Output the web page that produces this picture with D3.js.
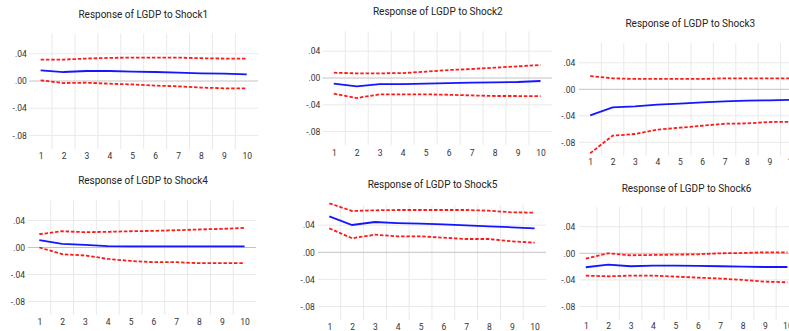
<!DOCTYPE html>
<html><head><meta charset="utf-8">
<script src="https://cdn.jsdelivr.net/npm/d3@7"></script>
<style>html,body{margin:0;padding:0;background:#fff;} svg{display:block;}</style>
</head><body><svg id="chart" width="789" height="331"></svg>
<script>
const periods = [1, 2, 3, 4, 5, 6, 7, 8, 9, 10];
const xTickLabels = ["1", "2", "3", "4", "5", "6", "7", "8", "9", "10"];
const yTickValues = [0.04, 0, -0.04, -0.08];
const yTickLabels = [".04", ".00", "-.04", "-.08"];
const panelTitles = ["Response of LGDP to Shock1", "Response of LGDP to Shock2", "Response of LGDP to Shock3",
                     "Response of LGDP to Shock4", "Response of LGDP to Shock5", "Response of LGDP to Shock6"];

const shock1Resp  = [0.0157, 0.0132, 0.0147, 0.0147, 0.0138, 0.0132, 0.0123, 0.0113, 0.0108, 0.0098];
const shock1Upper = [0.0315, 0.0315, 0.0330, 0.0340, 0.0344, 0.0344, 0.0344, 0.0335, 0.0330, 0.0330];
const shock1Lower = [0.0010, -0.0030, -0.0025, -0.0040, -0.0050, -0.0068, -0.0078, -0.0097, -0.0107, -0.0107];

const shock2Resp  = [-0.0085, -0.0125, -0.0090, -0.0090, -0.0085, -0.0075, -0.0070, -0.0065, -0.0060, -0.0045];
const shock2Upper = [0.0079, 0.0069, 0.0069, 0.0074, 0.0094, 0.0119, 0.0134, 0.0154, 0.0174, 0.0194];
const shock2Lower = [-0.0234, -0.0299, -0.0244, -0.0244, -0.0244, -0.0250, -0.0260, -0.0269, -0.0269, -0.0270];

const shock3Resp  = [-0.0393, -0.0272, -0.0257, -0.0232, -0.0217, -0.0196, -0.0181, -0.0171, -0.0166, -0.0160];
const shock3Upper = [0.0200, 0.0166, 0.0156, 0.0156, 0.0156, 0.0156, 0.0166, 0.0166, 0.0166, 0.0166];
const shock3Lower = [-0.0966, -0.0700, -0.0675, -0.0610, -0.0580, -0.0550, -0.0520, -0.0515, -0.0494, -0.0490];

const shock4Resp  = [0.0108, 0.0053, 0.0039, 0.0019, 0.0017, 0.0017, 0.0017, 0.0017, 0.0017, 0.0017];
const shock4Upper = [0.0197, 0.0241, 0.0227, 0.0232, 0.0241, 0.0246, 0.0256, 0.0267, 0.0276, 0.0290];
const shock4Lower = [0.0000, -0.0099, -0.0118, -0.0169, -0.0199, -0.0218, -0.0218, -0.0232, -0.0232, -0.0232];

const shock5Resp  = [0.0530, 0.0403, 0.0447, 0.0432, 0.0422, 0.0413, 0.0398, 0.0384, 0.0369, 0.0354];
const shock5Upper = [0.0723, 0.0610, 0.0620, 0.0624, 0.0624, 0.0624, 0.0624, 0.0614, 0.0590, 0.0585];
const shock5Lower = [0.0354, 0.0207, 0.0260, 0.0236, 0.0236, 0.0216, 0.0196, 0.0196, 0.0162, 0.0142];

const shock6Resp  = [-0.0210, -0.0170, -0.0195, -0.0186, -0.0186, -0.0190, -0.0195, -0.0200, -0.0206, -0.0206];
const shock6Upper = [-0.0080, 0.0000, -0.0030, -0.0025, -0.0020, -0.0015, 0.0000, 0.0005, 0.0015, 0.0015];
const shock6Lower = [-0.0336, -0.0346, -0.0336, -0.0336, -0.0350, -0.0366, -0.0380, -0.0400, -0.0426, -0.0436];

const shockSeries = [
  [shock1Resp, shock1Upper, shock1Lower],
  [shock2Resp, shock2Upper, shock2Lower],
  [shock3Resp, shock3Upper, shock3Lower],
  [shock4Resp, shock4Upper, shock4Lower],
  [shock5Resp, shock5Upper, shock5Lower],
  [shock6Resp, shock6Upper, shock6Lower]
];

// panel layout (pixel geometry)
const layout = [
  {left: 29.2,  right: 258.2, gridLeft: 29.2,  zero: 81,    pxPer: 680,   tx: 143.3, ty: 17.5,  yLab: 26.7,  xLab: 152.7},
  {left: 322.3, right: 552,   gridLeft: 322.3, zero: 78,    pxPer: 670,   tx: 437.8, ty: 15,    yLab: 320.3, xLab: 150},
  {left: 579,   right: 803,   gridLeft: 579,   zero: 89.3,  pxPer: 662.5, tx: 690.3, ty: 26.7,  yLab: 575.3, xLab: 159.3},
  {left: 27.9,  right: 256,   gridLeft: 27.9,  zero: 247.5, pxPer: 675,   tx: 143,   ty: 184.3, yLab: 25,    xLab: 319},
  {left: 317.9, right: 546,   gridLeft: 317.9, zero: 252.3, pxPer: 677.5, tx: 432.5, ty: 188.3, yLab: 314.7, xLab: 324.3},
  {left: 574.6, right: 798.6, gridLeft: 579.3, zero: 253.3, pxPer: 665,   tx: 686.5, ty: 191.7, yLab: 575.3, xLab: 323.3}
];

const FONT = "Roboto, 'Liberation Sans', sans-serif";
const svg = d3.select("#chart");
svg.append("rect").attr("width", 789).attr("height", 331).attr("fill", "#fff");

layout.forEach((p, i) => {
  const x = d3.scalePoint().domain(periods).range([p.left, p.right]).padding(0.5);
  const y = d3.scaleLinear().domain([-0.10, 0.07])
    .range([p.zero + 0.10 * p.pxPer, p.zero - 0.07 * p.pxPer]);
  const step = x.step();
  const g = svg.append("g");
  const [y0, y1] = y.range();

  // vertical gridlines at category boundaries
  g.selectAll(".vg").data(periods.slice(1)).join("line")
    .attr("x1", d => x(d) - step / 2).attr("x2", d => x(d) - step / 2)
    .attr("y1", y1).attr("y2", y0)
    .attr("stroke", "#e9e9e9").attr("stroke-width", 1);

  // horizontal gridlines
  g.selectAll(".hg").data(yTickValues).join("line")
    .attr("x1", p.gridLeft).attr("x2", p.right)
    .attr("y1", d => y(d)).attr("y2", d => y(d))
    .attr("stroke", d => d === 0 ? "#c4c4c4" : "#e9e9e9").attr("stroke-width", 1);

  // axes
  const yAxis = d3.axisLeft(y).tickValues(yTickValues)
    .tickFormat((d, k) => yTickLabels[k]).tickSize(0).tickPadding(0);
  g.append("g").attr("transform", `translate(${p.yLab},0)`).call(yAxis)
    .call(a => a.select(".domain").remove())
    .attr("font-size", null).attr("font-family", null)
    .selectAll("text").attr("font-family", FONT).attr("font-size", 8.5).attr("fill", "#333");

  const xAxis = d3.axisBottom(x).tickValues(periods)
    .tickFormat((d, k) => xTickLabels[k]).tickSize(0).tickPadding(0);
  g.append("g").attr("transform", `translate(0,${p.xLab})`).call(xAxis)
    .call(a => a.select(".domain").remove())
    .attr("font-size", null).attr("font-family", null)
    .selectAll("text").attr("font-family", FONT).attr("font-size", 8.5).attr("fill", "#333");

  // lines
  const line = d3.line().x((d, k) => x(periods[k])).y(d => y(d));
  const [resp, upper, lower] = shockSeries[i];
  [upper, lower].forEach(s => {
    g.append("path").attr("d", line(s)).attr("fill", "none")
      .attr("stroke", "#ff1a1a").attr("stroke-width", 1.8)
      .attr("stroke-dasharray", "3.5,1.8");
  });
  g.append("path").attr("d", line(resp)).attr("fill", "none")
    .attr("stroke", "#1515ff").attr("stroke-width", 1.8);

  // title
  g.append("text").attr("x", p.tx).attr("y", p.ty).attr("text-anchor", "middle")
    .attr("font-family", FONT).attr("font-size", 10).attr("fill", "#222")
    .text(panelTitles[i]);
});
</script>
</body></html>
